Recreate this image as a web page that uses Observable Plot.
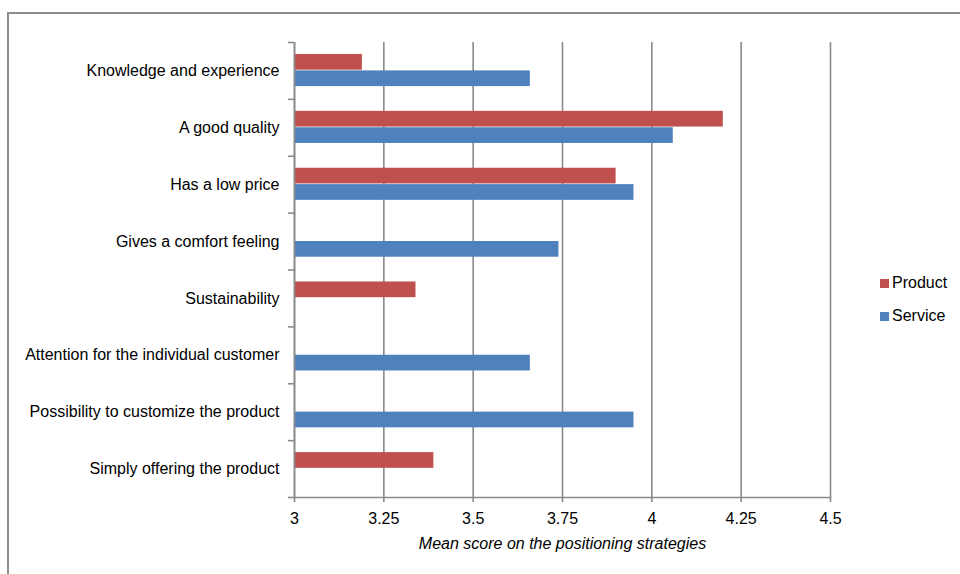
<!DOCTYPE html>
<html>
<head>
<meta charset="utf-8">
<script src="https://cdn.jsdelivr.net/npm/d3@7"></script>
<script src="https://cdn.jsdelivr.net/npm/@observablehq/plot@0.6"></script>
<style>
  body { margin: 0; background: #fff; }
  #chart { position: relative; width: 960px; height: 574px; overflow: hidden; background: #fff;
           font-family: "Liberation Sans", Arial, sans-serif; }
  #frame { position: absolute; left: 7px; top: 12px; width: 1200px; height: 1200px;
           border-left: 2px solid #8c8c8c; border-top: 2px solid #8c8c8c; }
  #plot { position: absolute; left: 0; top: 0; }
  #plot g[aria-label="x-axis label"] text { font-style: italic; }
  .legend { position: absolute; left: 880px; font-size: 16px; color: #000; }
  .legend .row { position: absolute; left: 0; white-space: nowrap; display: flex; align-items: center; height: 18px; }
  .legend .sw { width: 9px; height: 9px; margin-right: 3px; }
</style>
</head>
<body>
<div id="chart">
  <div id="frame"></div>
  <div id="plot"></div>
  <div class="legend" id="legend"></div>
</div>
<script>
// Positioning strategies, top to bottom
const categories = [
  "Knowledge and experience",
  "A good quality",
  "Has a low price",
  "Gives a comfort feeling",
  "Sustainability",
  "Attention for the individual customer",
  "Possibility to customize the product",
  "Simply offering the product"
];
// Mean scores per strategy (null = not measured for that group)
const productScores = [3.19, 4.20, 3.90, null, 3.34, null, null, 3.39];
const serviceScores = [3.66, 4.06, 3.95, 3.74, null, 3.66, 3.95, null];
const seriesNames = ["Product", "Service"];
const seriesColors = ["#C0504D", "#4F81BD"];
const xTicks = [3, 3.25, 3.5, 3.75, 4, 4.25, 4.5];
const xLabel = "Mean score on the positioning strategies";

const rows = (scores) => categories
  .map((category, i) => ({category, value: scores[i]}))
  .filter(d => d.value != null);
const productRows = rows(productScores);
const serviceRows = rows(serviceScores);

const W = 960, H = 574;
const mTop = 42, mBottom = 77, mLeft = 294, mRight = 130;
const bw = (H - mTop - mBottom) / categories.length;
const gray = "#8a8a8a";
const barH = 15.7;
const gap = 0.7;
const pairTop = (bw - 2 * barH - gap) / 2 - 0.4;

const chart = Plot.plot({
  width: W,
  height: H,
  marginTop: mTop,
  marginBottom: mBottom,
  marginLeft: mLeft,
  marginRight: mRight,
  style: {fontFamily: "'Liberation Sans', Arial, sans-serif", fontSize: "16px", color: "#000", background: "transparent", overflow: "visible"},
  x: {domain: [xTicks[0], xTicks[xTicks.length - 1]], ticks: xTicks, tickFormat: d => String(d), label: xLabel, labelArrow: "none"},
  y: {domain: categories, padding: 0, round: false, label: null},
  marks: [
    Plot.gridX(xTicks, {stroke: gray, strokeOpacity: 1, strokeWidth: 1.6}),
    Plot.barX(productRows, {
      x1: xTicks[0], x2: "value", y: "category", fill: seriesColors[0],
      insetTop: pairTop, insetBottom: bw - pairTop - barH
    }),
    Plot.barX(serviceRows, {
      x1: xTicks[0], x2: "value", y: "category", fill: seriesColors[1],
      insetTop: pairTop + barH + gap, insetBottom: bw - pairTop - 2 * barH - gap
    }),
    Plot.ruleX([xTicks[0]], {stroke: gray, strokeWidth: 1.6}),
    Plot.frame({anchor: "bottom", stroke: gray, strokeWidth: 1.6}),
    Plot.axisX(xTicks, {
      tickSize: 5, tickPadding: 10, stroke: gray, strokeWidth: 1.6, tickFormat: d => String(d),
      label: xLabel, labelAnchor: "center", labelOffset: 51, labelArrow: "none"
    }),
    Plot.axisY({tickSize: 0, tickPadding: 15, fill: "#000"}),
    Plot.axisY(categories, {tickSize: 6, tickFormat: () => "", dy: -bw / 2, stroke: gray, strokeWidth: 1.6, label: null}),
    Plot.axisY([categories[categories.length - 1]], {tickSize: 6, tickFormat: () => "", dy: bw / 2, stroke: gray, strokeWidth: 1.6, label: null})
  ]
});
document.getElementById("plot").appendChild(chart);

// Legend
const legend = document.getElementById("legend");
const legendTops = [274, 307];
seriesNames.forEach((name, i) => {
  const row = document.createElement("div");
  row.className = "row";
  row.style.top = legendTops[i] + "px";
  const sw = document.createElement("span");
  sw.className = "sw";
  sw.style.background = seriesColors[i];
  const label = document.createElement("span");
  label.textContent = name;
  row.appendChild(sw);
  row.appendChild(label);
  legend.appendChild(row);
});
</script>
</body>
</html>
